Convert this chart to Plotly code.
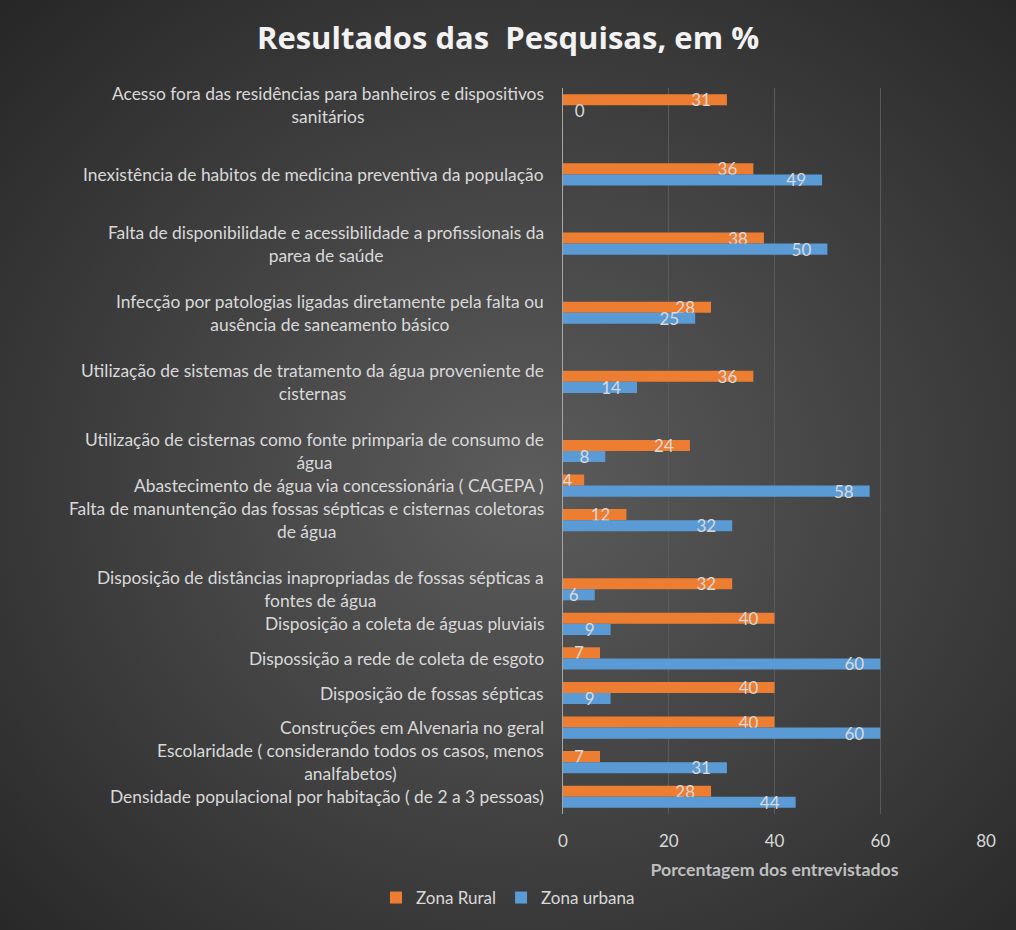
import base64
import plotly.graph_objects as go

# ---- data (top to bottom, blanks are empty rows of the source sheet) ----
categories = [
    "Acesso fora das residências para banheiros e dispositivos<br>sanitários",
    "",
    "Inexistência de habitos de medicina preventiva da população",
    "",
    "Falta de disponibilidade e acessibilidade a profissionais da<br>parea de saúde",
    "",
    "Infecção por patologias ligadas diretamente pela falta ou<br>ausência de saneamento básico",
    "",
    "Utilização de sistemas de tratamento da água proveniente de<br>cisternas",
    "",
    "Utilização de cisternas como fonte primparia de consumo de<br>água",
    "Abastecimento de água via concessionária ( CAGEPA )",
    "Falta de manuntenção das fossas sépticas e cisternas coletoras<br>de água",
    "",
    "Disposição de distâncias inapropriadas de fossas sépticas a<br>fontes de água",
    "Disposição a coleta de águas pluviais",
    "Dispossição a rede de coleta de esgoto",
    "Disposição de fossas sépticas",
    "Construções em Alvenaria no geral",
    "Escolaridade ( considerando todos os casos, menos<br>analfabetos)",
    "Densidade populacional por habitação ( de 2 a 3 pessoas)",
]
zona_rural = [31, None, 36, None, 38, None, 28, None, 36, None, 24, 4, 12, None, 32, 40, 7, 40, 40, 7, 28]
zona_urbana = [0, None, 49, None, 50, None, 25, None, 14, None, 8, 58, 32, None, 6, 9, 60, 9, 60, 31, 44]
x_ticks = [0, 20, 40, 60, 80]

title_text = "Resultados das\u00a0\u00a0Pesquisas, em %"
x_title = "Porcentagem dos entrevistados"

# ---- styling ----
W, H = 1016, 930
ML, MR, MT, MB = 563, 30, 88, 116
ORANGE = "#ED7D31"
BLUE = "#5B9BD5"
TXT = "#D9D9D9"
FONT = "Lato"

# unique keys for blank rows so each keeps its own slot
keys = []
for i, c in enumerate(categories):
    keys.append(c if c else "\u200b" * (i + 1))
n_slots = len(keys)

NB = "\u00a0"


def labels(vals):
    out = []
    for v in vals:
        if v is None:
            out.append("")
        elif v == 0:
            out.append(NB * 2 + str(v))
        elif v < 5:
            out.append(str(v) + NB * 2)
        else:
            out.append(str(v) + NB * 3)
    return out


def positions(vals):
    return ["outside" if v == 0 else "inside" for v in vals]


fig = go.Figure()
for name, vals, color, rank in [
    ("Zona Rural", zona_rural, ORANGE, 1),
    ("Zona urbana", zona_urbana, BLUE, 2),
]:
    fig.add_trace(go.Bar(
        name=name, y=keys, x=vals, orientation="h",
        marker=dict(color=color, line=dict(width=0)),
        text=labels(vals), textposition=positions(vals),
        insidetextanchor="end", constraintext="none", textangle=0,
        textfont=dict(color=TXT, size=17, family=FONT),
        legendrank=rank, cliponaxis=False, hoverinfo="x+name",
    ))

# category labels as centred annotations
for k, c in zip(keys, categories):
    if c:
        fig.add_annotation(
            x=0, xref="paper", y=k, yref="y", xanchor="right", yanchor="middle",
            xshift=-17, text=c, align="center", showarrow=False,
            font=dict(color=TXT, size=17.4, family=FONT),
        )

# radial gradient background
svg = (
    f'<svg xmlns="http://www.w3.org/2000/svg" width="{W}" height="{H}">'
    '<defs><radialGradient id="g" cx="52%" cy="52%" r="75%">'
    '<stop offset="0" stop-color="#5C5C5C"/>'
    '<stop offset="1" stop-color="#252525"/>'
    '</radialGradient></defs>'
    f'<rect width="{W}" height="{H}" fill="url(#g)"/></svg>'
)
src = "data:image/svg+xml;base64," + base64.b64encode(svg.encode()).decode()
pw, ph = W - ML - MR, H - MT - MB
fig.add_layout_image(
    source=src, xref="paper", yref="paper",
    x=-ML / pw, y=1 + MT / ph, sizex=W / pw, sizey=H / ph,
    xanchor="left", yanchor="top", sizing="stretch", layer="below",
)

fig.update_layout(
    width=W, height=H,
    margin=dict(l=ML, r=MR, t=MT, b=MB, autoexpand=False),
    paper_bgcolor="#333333", plot_bgcolor="rgba(0,0,0,0)",
    barmode="group", bargap=0.36, bargroupgap=0,
    font=dict(family=FONT, color=TXT),
    title=dict(
        text=f"<b>{title_text}</b>", x=0.5, xref="container", xanchor="center",
        y=1 - 38 / H, yref="container", yanchor="middle",
        font=dict(size=31, color="#F2F2F2", family="Open Sans"),
    ),
    xaxis=dict(
        range=[0, 80], tickvals=x_ticks, showgrid=True, gridcolor="#5A5A5A", gridwidth=1,
        zeroline=False, showline=False, ticks="", automargin=False,
        tickfont=dict(size=17, color=TXT, family=FONT), ticklabelstandoff=15,
        title=dict(text=f"<b>{x_title}</b>", font=dict(size=17.8, color="#BFBFBF", family=FONT), standoff=14),
        fixedrange=True,
    ),
    yaxis=dict(
        categoryorder="array", categoryarray=keys, type="category",
        range=[n_slots - 0.5, -0.5], showticklabels=False, ticks="", showgrid=False,
        showline=True, linecolor="#A6A6A6", linewidth=1, zeroline=False,
        automargin=False, fixedrange=True,
    ),
    showlegend=True,
    legend=dict(
        orientation="h", x=0.5, xref="container", xanchor="center",
        y=1 - 898 / H, yref="container", yanchor="middle",
        font=dict(size=17, color=TXT, family=FONT), bgcolor="rgba(0,0,0,0)",
        itemwidth=30, tracegroupgap=0,
    ),
)

fig.write_html(
    "out.html",
    config={"displayModeBar": False},
    post_script="document.body.style.margin='0';document.body.style.overflow='hidden';",
)
